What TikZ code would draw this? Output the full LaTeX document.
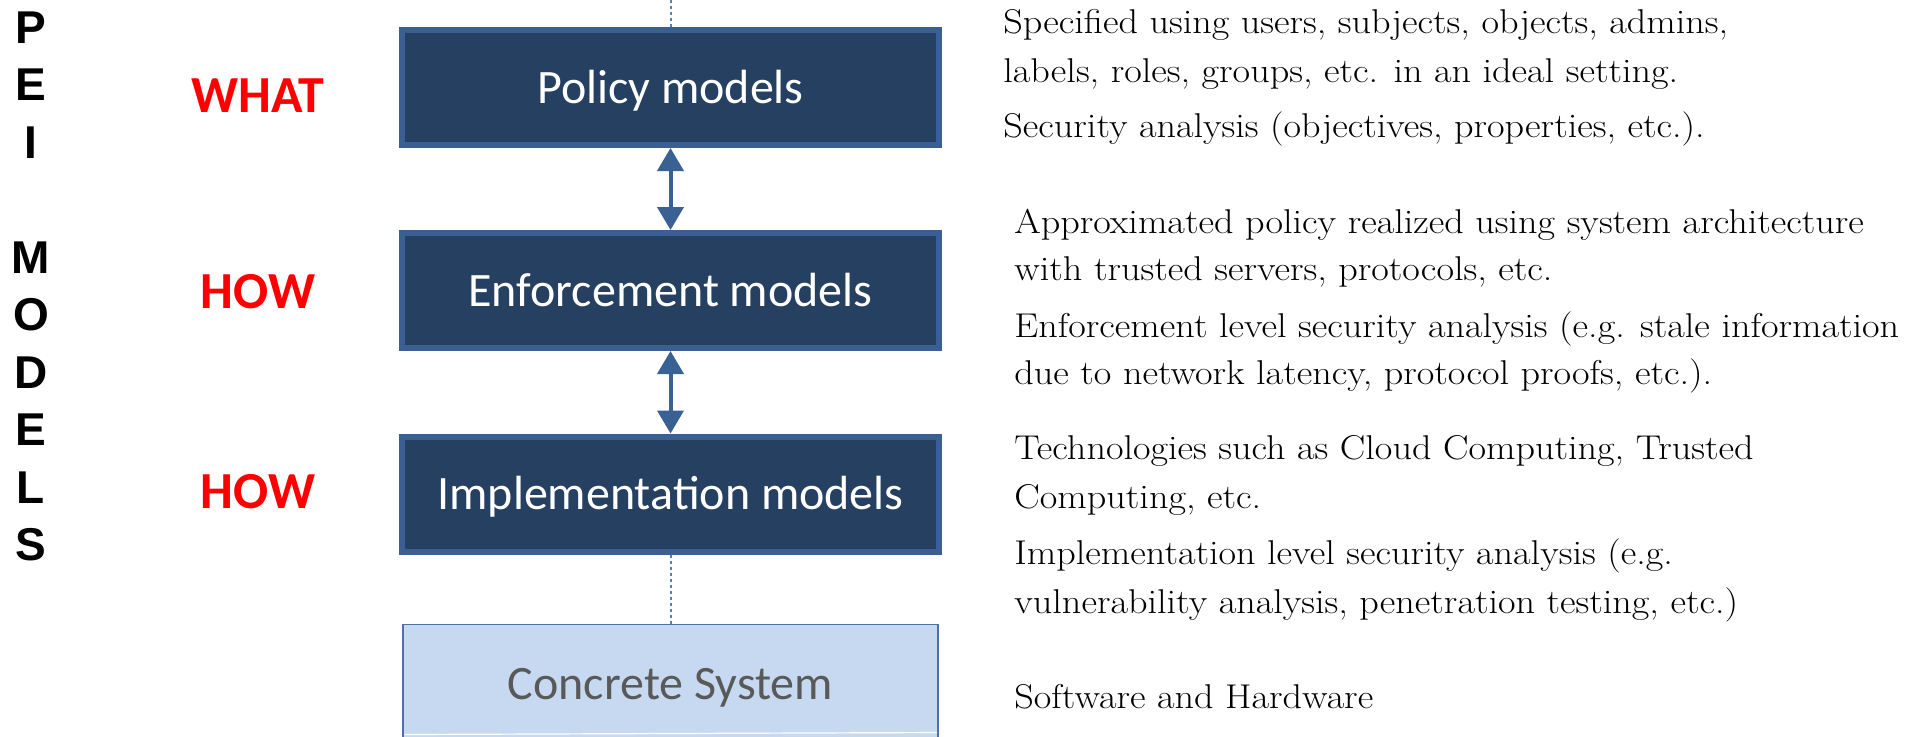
\documentclass[tikz,border=0pt]{standalone}
\usepackage{fontspec}
\usetikzlibrary{arrows.meta}
\newfontfamily\calibri{Carlito}
\newfontfamily\arialfam{Liberation Sans}
\newfontfamily\bodyserif{Latin Modern Roman}[FakeStretch=1.11]

\definecolor{boxfill}{RGB}{38,64,97}
\definecolor{boxedge}{RGB}{58,95,148}
\definecolor{arrowc}{RGB}{58,97,148}
\definecolor{dotc}{RGB}{79,129,189}
\definecolor{sysfill}{RGB}{198,217,241}
\definecolor{sysedge}{RGB}{79,111,168}
\definecolor{systext}{RGB}{89,89,89}

\begin{document}
\begin{tikzpicture}[x=0.5pt,y=-0.5pt,
  model/.style={draw=boxedge, line width=3pt, fill=boxfill, text=white,
    minimum width=268.5pt, minimum height=57.5pt, inner sep=0pt,
    text height=15.5pt, text depth=0pt,
    font=\calibri\fontsize{24}{28}\selectfont},
  sysbox/.style={draw=sysedge, line width=0.75pt, fill=sysfill, text=systext,
    minimum width=267.5pt, minimum height=59.5pt, inner sep=0pt,
    text height=15.5pt, text depth=0pt,
    font=\calibri\fontsize{24}{28}\selectfont},
  dbl/.style={draw=arrowc, line width=2pt,
    {Triangle[width=13pt,length=11.5pt]}-{Triangle[width=13pt,length=11.5pt]}},
  dotline/.style={draw=dotc, line width=1pt, dash pattern=on 1.5pt off 1.5pt},
  sideletter/.style={anchor=base, inner sep=0pt,
    font=\arialfam\bfseries\fontsize{23}{28}\selectfont},
  level/.style={anchor=base, inner sep=0pt, text=red,
    font=\calibri\bfseries\fontsize{26}{30}\selectfont},
  note/.style={anchor=base west, inner sep=0pt,
    font=\bodyserif\fontsize{17.2}{21}\selectfont}]
\useasboundingbox (0,0) rectangle (1921,736);
\clip (0,0) rectangle (1921,736);

% vertical lettering on the left
\foreach \ch/\yy [count=\i] in {P/43,E/100.5,I/158,M/273,O/330.5,D/388,E/445.5,L/503,S/560.5}
  \node[sideletter] (side\i) at (31,\yy) {\ch};

% level labels
\node[level] (what) at (258,112) {WHAT};
\node[level] (how1) at (258,308) {HOW};
\node[level] (how2) at (258,508) {HOW};

% model stack
\node[model] (policy) at (670.5,87.5) {Policy models};
\node[model] (enf) at (670.5,290.5) {Enforcement models};
\node[model] (impl) at (670.5,494) {Implementation models};
\node[sysbox] (sys) at (670.5,684) {Concrete System};
\draw[white, line width=0.6pt] ([xshift=1pt,yshift=-1pt]sys.west |- 0,732.5) -- ([xshift=-1pt]sys.east |- 0,732.5);

% connectors
\coordinate (topend) at (670.5,0);
\draw[dotline] (topend) -- (policy.north);
\draw[dbl] (policy.south) -- (enf.north);
\draw[dbl] (enf.south) -- (impl.north);
\draw[dotline] (impl.south) -- (sys.north);

% descriptions
\node[note] (d1a) at (1003,33) {Specified using users, subjects, objects, admins,};
\node[note] (d1b) at (1003,82) {labels, roles, groups, etc. in an ideal setting.};
\node[note] (d1c) at (1003,137) {Security analysis (objectives, properties, etc.).};

\node[note] (d2a) at (1014,233) {Approximated policy realized using system architecture};
\node[note] (d2b) at (1014,280) {with trusted servers, protocols, etc.};
\node[note] (d2c) at (1014,337) {Enforcement level security analysis (e.g. stale information};
\node[note] (d2d) at (1014,384) {due to network latency, protocol proofs, etc.).};

\node[note] (d3a) at (1014,459) {Technologies such as Cloud Computing, Trusted};
\node[note] (d3b) at (1014,508) {Computing, etc.};
\node[note] (d3c) at (1014,564) {Implementation level security analysis (e.g.};
\node[note] (d3d) at (1014,613) {vulnerability analysis, penetration testing, etc.)};

\node[note] (d4a) at (1014,708) {Software and Hardware};
\end{tikzpicture}
\end{document}
